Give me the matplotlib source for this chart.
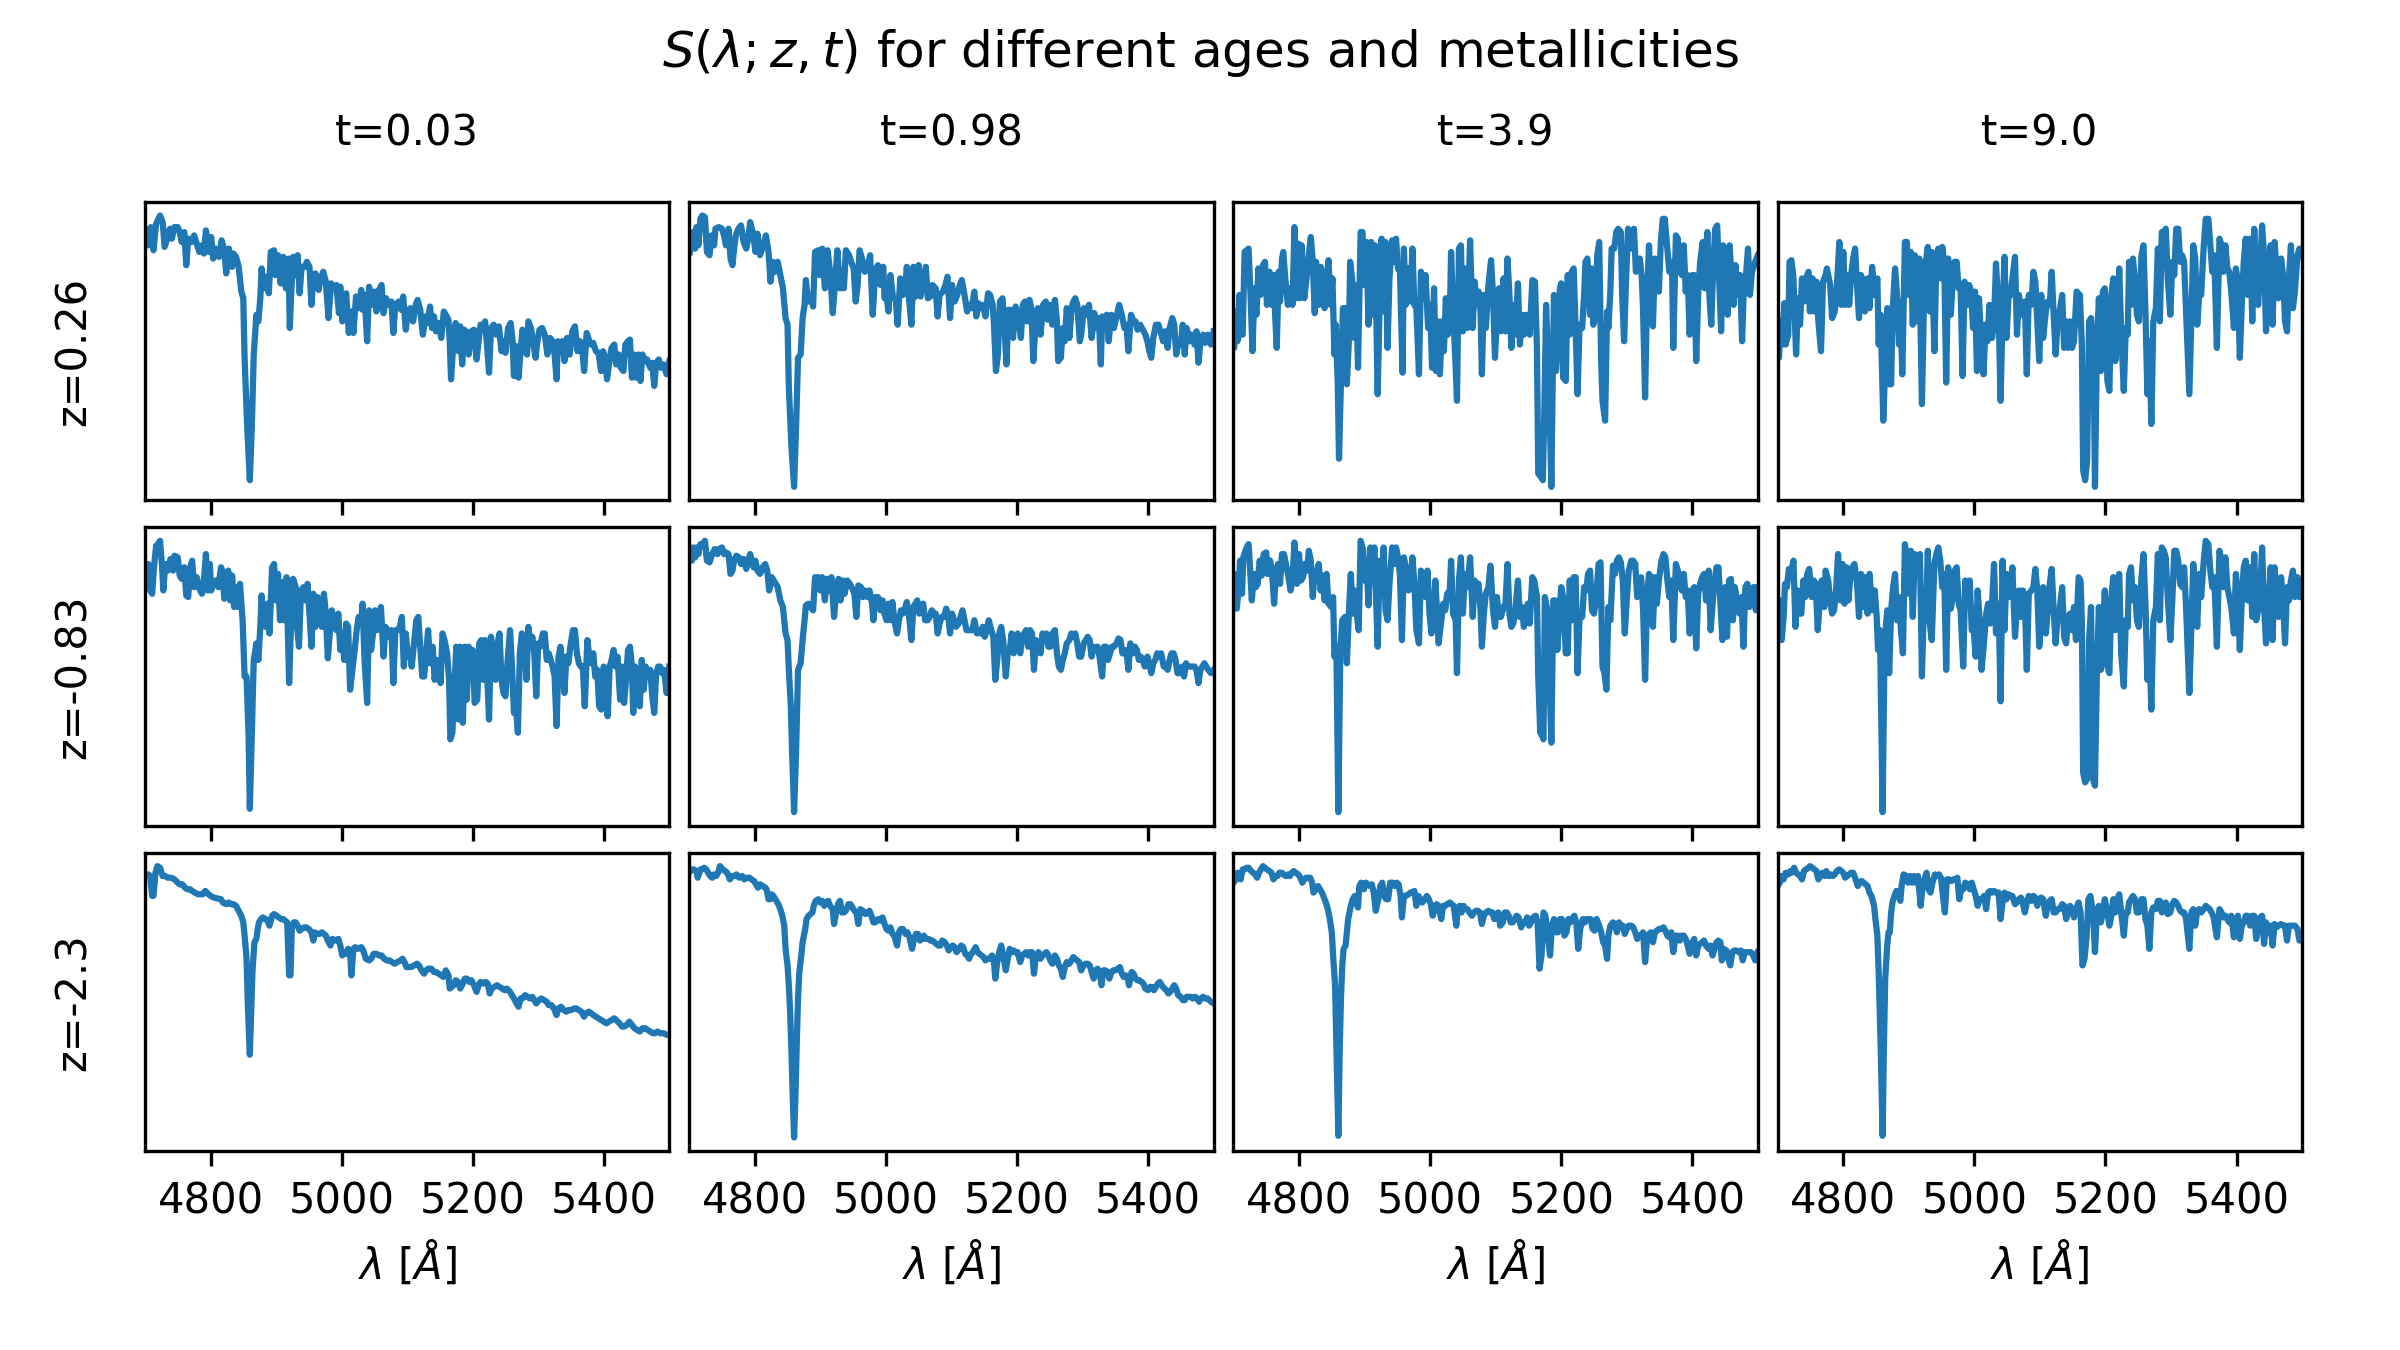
import matplotlib
matplotlib.use("Agg")
import matplotlib.pyplot as plt

ages = ["0.03", "0.98", "3.9", "9.0"]
metallicities = ["0.26", "-0.83", "-2.3"]
xticks = [4800, 5000, 5200, 5400]

# (wavelength [A], relative flux) pairs
spec_z026_t003 = [(4700, 820), (4701, 820), (4705, 770), (4709, 825), (4713, 755), (4717, 835), (4723, 860), (4727, 840), (4730, 765), (4734, 790), (4738, 820), (4741, 790), (4745, 825), (4750, 825), (4753, 810), (4756, 780), (4760, 810), (4763, 710), (4766, 790), (4771, 780), (4775, 800), (4779, 775), (4783, 750), (4787, 770), (4790, 745), (4793, 815), (4798, 750), (4801, 795), (4804, 730), (4808, 760), (4813, 735), (4817, 785), (4821, 755), (4824, 685), (4828, 760), (4831, 730), (4833, 705), (4835, 745), (4839, 735), (4843, 705), (4847, 630), (4850, 610), (4852, 430), (4856, 220), (4860, 60), (4863, 220), (4866, 440), (4870, 560), (4873, 540), (4876, 610), (4878, 700), (4881, 640), (4885, 675), (4889, 625), (4892, 750), (4897, 755), (4899, 680), (4903, 740), (4907, 655), (4911, 735), (4915, 640), (4919, 730), (4921, 520), (4923, 620), (4926, 735), (4930, 680), (4933, 740), (4936, 625), (4939, 705), (4944, 705), (4947, 720), (4951, 705), (4954, 590), (4957, 680), (4960, 685), (4965, 635), (4968, 670), (4972, 690), (4976, 660), (4980, 550), (4984, 655), (4988, 640), (4992, 650), (4996, 565), (4998, 645), (5001, 540), (5004, 580), (5007, 625), (5011, 505), (5015, 570), (5018, 505), (5022, 615), (5026, 580), (5030, 635), (5032, 575), (5035, 620), (5039, 480), (5042, 645), (5045, 590), (5050, 630), (5053, 570), (5057, 635), (5061, 650), (5064, 565), (5068, 610), (5071, 590), (5076, 600), (5079, 505), (5082, 590), (5087, 600), (5091, 575), (5094, 615), (5098, 515), (5101, 570), (5105, 580), (5109, 540), (5113, 590), (5116, 605), (5120, 575), (5124, 500), (5128, 555), (5131, 535), (5135, 585), (5138, 520), (5141, 555), (5144, 510), (5148, 535), (5152, 490), (5156, 570), (5159, 560), (5163, 545), (5165, 480), (5167, 365), (5171, 490), (5174, 535), (5178, 450), (5181, 525), (5184, 410), (5187, 515), (5190, 510), (5194, 440), (5198, 510), (5202, 515), (5206, 425), (5209, 480), (5212, 530), (5215, 520), (5219, 540), (5222, 465), (5225, 385), (5228, 520), (5232, 530), (5236, 500), (5240, 525), (5244, 450), (5247, 480), (5250, 445), (5254, 520), (5258, 535), (5261, 480), (5263, 375), (5267, 465), (5270, 370), (5273, 450), (5276, 515), (5280, 450), (5283, 440), (5285, 540), (5289, 520), (5292, 480), (5296, 430), (5298, 470), (5302, 515), (5306, 520), (5310, 500), (5314, 440), (5318, 490), (5322, 480), (5325, 440), (5328, 365), (5330, 480), (5333, 450), (5337, 480), (5340, 420), (5344, 490), (5348, 440), (5352, 510), (5356, 525), (5360, 450), (5364, 480), (5367, 460), (5370, 390), (5374, 505), (5378, 480), (5381, 470), (5384, 475), (5388, 450), (5392, 445), (5396, 390), (5399, 450), (5402, 430), (5405, 365), (5408, 410), (5412, 460), (5416, 470), (5419, 410), (5423, 440), (5426, 400), (5430, 390), (5433, 470), (5437, 480), (5440, 485), (5443, 370), (5446, 440), (5450, 370), (5453, 440), (5456, 360), (5459, 440), (5463, 420), (5466, 425), (5471, 400), (5474, 415), (5477, 345), (5480, 415), (5484, 425), (5487, 400), (5491, 410), (5496, 380), (5500, 420)]

spec_z026_t098 = [(4700, 745), (4701, 745), (4705, 810), (4709, 760), (4711, 825), (4714, 770), (4717, 850), (4720, 860), (4724, 855), (4727, 750), (4731, 740), (4734, 800), (4738, 770), (4740, 820), (4745, 825), (4750, 820), (4753, 800), (4756, 770), (4760, 820), (4763, 730), (4766, 710), (4769, 770), (4771, 800), (4775, 820), (4779, 830), (4783, 780), (4787, 760), (4790, 790), (4793, 840), (4798, 800), (4801, 750), (4804, 805), (4808, 740), (4813, 770), (4817, 800), (4821, 750), (4824, 660), (4828, 720), (4831, 690), (4835, 720), (4839, 680), (4843, 640), (4847, 550), (4850, 530), (4852, 340), (4856, 160), (4860, 40), (4863, 220), (4866, 430), (4870, 440), (4873, 550), (4876, 590), (4878, 665), (4881, 600), (4885, 620), (4889, 585), (4892, 750), (4897, 755), (4899, 680), (4903, 760), (4907, 640), (4911, 755), (4915, 690), (4919, 565), (4923, 670), (4926, 755), (4930, 640), (4933, 690), (4936, 640), (4939, 755), (4944, 740), (4947, 720), (4951, 700), (4954, 600), (4957, 650), (4960, 755), (4965, 720), (4968, 690), (4972, 700), (4976, 740), (4980, 560), (4984, 695), (4988, 710), (4992, 650), (4996, 705), (4998, 610), (5001, 620), (5004, 570), (5007, 680), (5011, 610), (5015, 610), (5018, 530), (5022, 670), (5026, 620), (5030, 655), (5032, 705), (5035, 615), (5039, 530), (5042, 705), (5045, 615), (5050, 710), (5053, 615), (5057, 660), (5061, 705), (5064, 610), (5068, 615), (5071, 650), (5076, 640), (5079, 555), (5082, 620), (5087, 630), (5091, 650), (5094, 675), (5098, 550), (5101, 650), (5105, 600), (5109, 620), (5113, 650), (5116, 665), (5120, 620), (5124, 570), (5128, 590), (5131, 580), (5135, 630), (5138, 555), (5141, 595), (5144, 580), (5148, 590), (5152, 555), (5156, 625), (5159, 620), (5163, 590), (5165, 530), (5168, 390), (5171, 440), (5174, 600), (5178, 610), (5181, 525), (5184, 410), (5187, 575), (5190, 575), (5194, 490), (5198, 585), (5202, 560), (5206, 490), (5209, 590), (5212, 600), (5215, 540), (5219, 605), (5222, 580), (5225, 420), (5228, 520), (5232, 580), (5236, 500), (5240, 590), (5244, 600), (5247, 545), (5250, 590), (5254, 530), (5258, 605), (5261, 540), (5263, 420), (5267, 430), (5270, 520), (5273, 480), (5276, 580), (5280, 490), (5283, 570), (5285, 595), (5289, 610), (5292, 590), (5296, 480), (5298, 500), (5302, 580), (5306, 560), (5310, 590), (5314, 490), (5318, 565), (5322, 520), (5325, 550), (5328, 410), (5330, 555), (5333, 540), (5337, 560), (5340, 480), (5344, 560), (5348, 520), (5352, 555), (5356, 590), (5360, 560), (5364, 520), (5367, 530), (5370, 450), (5374, 560), (5378, 540), (5381, 540), (5384, 515), (5388, 530), (5392, 515), (5396, 500), (5399, 480), (5402, 450), (5405, 430), (5408, 490), (5412, 530), (5416, 530), (5419, 510), (5423, 480), (5426, 510), (5430, 460), (5433, 520), (5437, 550), (5440, 530), (5443, 440), (5446, 470), (5450, 470), (5453, 530), (5456, 440), (5459, 520), (5463, 480), (5466, 500), (5471, 470), (5474, 510), (5477, 415), (5480, 480), (5484, 500), (5487, 475), (5491, 500), (5496, 470), (5500, 510)]

spec_z026_t39 = [(4700, 460), (4701, 460), (4704, 570), (4706, 480), (4709, 620), (4711, 500), (4714, 500), (4717, 750), (4720, 755), (4723, 760), (4726, 620), (4729, 450), (4732, 640), (4735, 560), (4738, 700), (4741, 620), (4745, 710), (4748, 720), (4751, 590), (4755, 690), (4758, 590), (4761, 680), (4764, 540), (4766, 460), (4769, 690), (4771, 600), (4774, 730), (4776, 750), (4779, 670), (4783, 590), (4787, 640), (4790, 590), (4793, 825), (4796, 610), (4799, 775), (4801, 610), (4804, 770), (4808, 610), (4812, 680), (4816, 760), (4818, 795), (4821, 720), (4824, 565), (4826, 720), (4830, 590), (4833, 705), (4836, 680), (4839, 580), (4842, 670), (4845, 725), (4848, 590), (4851, 670), (4854, 440), (4856, 530), (4859, 360), (4861, 125), (4864, 360), (4867, 580), (4871, 580), (4873, 350), (4876, 480), (4878, 720), (4881, 670), (4884, 490), (4887, 650), (4890, 400), (4894, 810), (4897, 810), (4899, 650), (4903, 780), (4906, 530), (4910, 780), (4913, 560), (4916, 770), (4920, 320), (4923, 600), (4926, 790), (4930, 570), (4932, 780), (4935, 460), (4938, 670), (4942, 785), (4945, 720), (4948, 790), (4951, 700), (4954, 690), (4958, 385), (4960, 760), (4963, 590), (4967, 700), (4970, 600), (4973, 760), (4976, 590), (4979, 580), (4983, 380), (4986, 690), (4989, 610), (4993, 680), (4997, 520), (5000, 590), (5003, 400), (5006, 640), (5009, 390), (5012, 540), (5015, 380), (5018, 540), (5021, 450), (5024, 610), (5027, 500), (5030, 540), (5032, 750), (5035, 580), (5039, 400), (5041, 300), (5044, 760), (5047, 770), (5050, 510), (5053, 700), (5057, 520), (5061, 785), (5065, 520), (5068, 660), (5071, 590), (5074, 630), (5077, 570), (5079, 380), (5082, 620), (5085, 520), (5089, 650), (5093, 725), (5096, 620), (5099, 430), (5102, 560), (5105, 640), (5108, 510), (5112, 670), (5115, 510), (5118, 730), (5121, 620), (5124, 460), (5127, 590), (5130, 500), (5134, 655), (5137, 470), (5140, 560), (5143, 500), (5146, 560), (5150, 530), (5152, 500), (5156, 665), (5160, 660), (5163, 460), (5165, 80), (5169, 70), (5172, 60), (5174, 240), (5177, 590), (5180, 400), (5183, 220), (5185, 40), (5187, 360), (5189, 620), (5192, 390), (5195, 500), (5198, 640), (5200, 655), (5203, 370), (5207, 360), (5210, 680), (5213, 500), (5216, 690), (5219, 700), (5222, 520), (5225, 320), (5228, 530), (5232, 520), (5235, 620), (5237, 720), (5240, 730), (5244, 560), (5246, 700), (5249, 530), (5252, 550), (5255, 740), (5258, 780), (5261, 420), (5263, 300), (5267, 240), (5270, 570), (5272, 520), (5275, 630), (5277, 760), (5281, 760), (5284, 810), (5287, 820), (5291, 810), (5293, 620), (5296, 480), (5299, 670), (5302, 820), (5305, 760), (5308, 810), (5311, 820), (5314, 690), (5317, 720), (5320, 730), (5323, 670), (5325, 570), (5328, 310), (5331, 620), (5334, 770), (5337, 590), (5340, 525), (5343, 730), (5346, 720), (5349, 630), (5352, 780), (5355, 850), (5358, 850), (5362, 760), (5365, 690), (5369, 720), (5371, 460), (5375, 800), (5378, 790), (5381, 700), (5384, 680), (5387, 770), (5390, 630), (5393, 680), (5396, 500), (5400, 680), (5403, 680), (5406, 420), (5409, 620), (5412, 720), (5416, 780), (5419, 640), (5423, 810), (5426, 620), (5429, 530), (5432, 710), (5435, 820), (5438, 830), (5441, 670), (5444, 510), (5447, 770), (5451, 690), (5454, 560), (5457, 770), (5460, 670), (5463, 590), (5466, 710), (5469, 620), (5473, 680), (5476, 480), (5479, 660), (5482, 680), (5485, 760), (5488, 620), (5491, 690), (5496, 720), (5500, 740)]

spec_z026_t90 = [(4700, 480), (4702, 430), (4704, 540), (4707, 470), (4710, 595), (4712, 470), (4716, 500), (4718, 720), (4721, 725), (4724, 670), (4728, 440), (4731, 610), (4734, 530), (4737, 670), (4740, 600), (4743, 670), (4747, 690), (4749, 570), (4753, 670), (4756, 570), (4759, 660), (4762, 540), (4766, 450), (4769, 660), (4773, 680), (4775, 700), (4780, 650), (4783, 550), (4787, 570), (4790, 640), (4794, 780), (4797, 590), (4800, 750), (4803, 590), (4806, 680), (4809, 590), (4812, 680), (4815, 730), (4818, 760), (4821, 650), (4824, 550), (4827, 680), (4830, 660), (4833, 570), (4837, 670), (4840, 580), (4844, 705), (4848, 620), (4852, 670), (4854, 470), (4857, 560), (4861, 240), (4863, 350), (4867, 580), (4870, 350), (4873, 350), (4875, 560), (4879, 700), (4882, 620), (4885, 470), (4887, 600), (4890, 380), (4894, 780), (4897, 780), (4900, 620), (4903, 750), (4906, 530), (4909, 740), (4912, 540), (4916, 730), (4920, 290), (4923, 590), (4926, 720), (4929, 765), (4932, 570), (4935, 750), (4939, 450), (4942, 730), (4945, 760), (4948, 670), (4951, 765), (4954, 720), (4957, 355), (4960, 730), (4964, 560), (4967, 660), (4970, 720), (4973, 720), (4976, 640), (4979, 650), (4982, 375), (4985, 660), (4989, 590), (4992, 650), (4995, 630), (4998, 520), (5001, 630), (5004, 390), (5007, 610), (5010, 500), (5014, 380), (5017, 530), (5020, 480), (5023, 590), (5027, 490), (5030, 540), (5033, 715), (5037, 570), (5040, 300), (5043, 570), (5046, 735), (5049, 490), (5052, 610), (5055, 620), (5058, 670), (5062, 735), (5065, 500), (5068, 620), (5071, 560), (5074, 580), (5077, 600), (5080, 380), (5083, 620), (5087, 590), (5090, 690), (5093, 660), (5096, 540), (5099, 420), (5102, 620), (5105, 490), (5109, 570), (5112, 600), (5115, 590), (5118, 690), (5121, 560), (5124, 440), (5127, 540), (5130, 570), (5134, 620), (5137, 460), (5140, 540), (5143, 460), (5146, 540), (5149, 460), (5152, 480), (5156, 630), (5161, 620), (5164, 470), (5166, 90), (5169, 60), (5172, 120), (5175, 540), (5178, 550), (5182, 420), (5184, 40), (5187, 470), (5190, 610), (5193, 390), (5196, 630), (5199, 640), (5203, 360), (5206, 330), (5209, 620), (5212, 670), (5215, 420), (5218, 510), (5221, 700), (5224, 510), (5228, 330), (5231, 520), (5234, 500), (5236, 720), (5239, 590), (5242, 730), (5245, 660), (5248, 560), (5251, 540), (5255, 740), (5258, 770), (5261, 570), (5264, 320), (5267, 480), (5270, 230), (5273, 540), (5277, 580), (5280, 760), (5283, 540), (5286, 810), (5289, 810), (5292, 820), (5295, 670), (5299, 560), (5302, 720), (5305, 680), (5308, 820), (5311, 820), (5314, 720), (5317, 740), (5320, 720), (5323, 570), (5328, 320), (5331, 550), (5334, 770), (5337, 730), (5340, 530), (5343, 620), (5346, 620), (5350, 770), (5353, 850), (5357, 850), (5360, 770), (5363, 690), (5366, 740), (5370, 460), (5374, 790), (5377, 770), (5380, 690), (5383, 770), (5386, 700), (5389, 690), (5392, 630), (5396, 520), (5399, 700), (5402, 660), (5405, 430), (5408, 590), (5411, 720), (5414, 790), (5417, 620), (5421, 790), (5424, 540), (5427, 820), (5430, 640), (5433, 590), (5436, 710), (5439, 830), (5442, 740), (5445, 510), (5449, 680), (5452, 770), (5455, 530), (5458, 780), (5461, 700), (5464, 610), (5468, 730), (5471, 680), (5474, 540), (5477, 510), (5480, 670), (5483, 770), (5486, 580), (5489, 630), (5493, 740), (5496, 760), (5500, 740)]

spec_zm083_t003 = [(4700, 720), (4701, 720), (4705, 790), (4708, 710), (4711, 700), (4714, 785), (4717, 845), (4720, 850), (4723, 860), (4726, 785), (4728, 710), (4731, 790), (4735, 770), (4739, 805), (4743, 770), (4745, 815), (4750, 810), (4753, 755), (4756, 745), (4760, 780), (4763, 695), (4766, 690), (4769, 780), (4772, 800), (4775, 720), (4779, 750), (4783, 715), (4787, 700), (4790, 740), (4793, 820), (4796, 710), (4799, 790), (4801, 710), (4804, 730), (4808, 740), (4812, 720), (4816, 780), (4818, 770), (4821, 685), (4824, 720), (4827, 770), (4830, 680), (4833, 755), (4836, 660), (4839, 720), (4842, 660), (4845, 730), (4849, 620), (4852, 450), (4855, 450), (4858, 280), (4860, 50), (4863, 270), (4866, 500), (4870, 550), (4873, 500), (4876, 600), (4878, 695), (4881, 610), (4884, 600), (4887, 670), (4890, 580), (4894, 780), (4897, 790), (4900, 680), (4903, 760), (4906, 620), (4909, 735), (4912, 620), (4916, 750), (4920, 430), (4923, 620), (4926, 745), (4930, 720), (4932, 600), (4935, 540), (4938, 710), (4942, 720), (4945, 680), (4948, 730), (4951, 640), (4954, 540), (4957, 700), (4960, 600), (4963, 690), (4967, 670), (4970, 600), (4973, 700), (4976, 640), (4979, 505), (4982, 580), (4985, 650), (4988, 620), (4992, 590), (4995, 640), (4998, 530), (5001, 580), (5004, 500), (5007, 610), (5010, 600), (5013, 410), (5017, 480), (5020, 530), (5023, 590), (5026, 630), (5030, 610), (5032, 670), (5035, 500), (5039, 370), (5042, 650), (5045, 530), (5048, 580), (5051, 650), (5054, 590), (5057, 620), (5060, 660), (5064, 510), (5067, 600), (5070, 590), (5073, 570), (5076, 590), (5079, 430), (5082, 590), (5085, 590), (5089, 600), (5092, 630), (5095, 480), (5098, 580), (5101, 510), (5104, 530), (5107, 480), (5111, 560), (5114, 620), (5117, 630), (5120, 540), (5123, 450), (5126, 450), (5129, 520), (5132, 590), (5135, 490), (5139, 540), (5142, 440), (5145, 500), (5148, 490), (5151, 430), (5154, 580), (5157, 560), (5161, 520), (5164, 440), (5166, 260), (5169, 280), (5172, 410), (5175, 540), (5178, 320), (5181, 540), (5185, 310), (5188, 540), (5191, 380), (5194, 540), (5197, 490), (5200, 530), (5203, 370), (5207, 380), (5210, 550), (5213, 560), (5216, 440), (5219, 560), (5222, 460), (5225, 320), (5228, 570), (5232, 480), (5235, 440), (5238, 550), (5241, 580), (5244, 440), (5247, 400), (5250, 390), (5253, 490), (5257, 590), (5260, 480), (5263, 340), (5266, 360), (5269, 280), (5272, 520), (5275, 580), (5279, 550), (5282, 440), (5285, 600), (5288, 540), (5291, 570), (5294, 520), (5297, 390), (5300, 550), (5303, 540), (5307, 580), (5310, 580), (5313, 500), (5316, 520), (5319, 500), (5322, 480), (5325, 450), (5328, 300), (5331, 510), (5334, 540), (5337, 480), (5340, 400), (5343, 510), (5346, 490), (5349, 540), (5353, 590), (5356, 590), (5359, 520), (5362, 490), (5365, 480), (5368, 480), (5371, 360), (5375, 560), (5378, 510), (5381, 490), (5384, 520), (5387, 450), (5390, 470), (5393, 360), (5396, 350), (5400, 480), (5403, 390), (5406, 330), (5409, 480), (5412, 500), (5415, 530), (5418, 480), (5421, 510), (5425, 380), (5428, 480), (5431, 370), (5434, 440), (5437, 530), (5440, 540), (5443, 480), (5445, 340), (5448, 480), (5452, 440), (5455, 360), (5458, 500), (5461, 410), (5464, 480), (5467, 460), (5471, 470), (5474, 390), (5477, 340), (5480, 460), (5483, 480), (5486, 480), (5489, 460), (5492, 470), (5496, 400), (5500, 480)]

spec_zm083_t098 = [(4700, 810), (4704, 800), (4706, 840), (4709, 810), (4711, 840), (4714, 820), (4717, 850), (4720, 850), (4724, 860), (4727, 800), (4731, 795), (4735, 820), (4739, 835), (4743, 820), (4745, 835), (4750, 840), (4753, 820), (4756, 825), (4760, 820), (4763, 760), (4766, 770), (4769, 805), (4772, 815), (4776, 810), (4779, 790), (4783, 805), (4787, 775), (4790, 800), (4793, 820), (4798, 780), (4801, 800), (4804, 770), (4808, 760), (4812, 780), (4816, 790), (4819, 770), (4822, 710), (4826, 750), (4829, 740), (4832, 730), (4835, 720), (4839, 680), (4843, 660), (4847, 580), (4850, 560), (4852, 470), (4855, 360), (4857, 220), (4860, 40), (4863, 220), (4866, 470), (4870, 490), (4873, 560), (4876, 620), (4878, 665), (4882, 670), (4885, 660), (4889, 650), (4892, 750), (4897, 750), (4900, 710), (4903, 750), (4907, 680), (4910, 745), (4913, 710), (4917, 750), (4921, 630), (4924, 700), (4928, 745), (4931, 680), (4934, 740), (4937, 700), (4941, 740), (4945, 730), (4949, 715), (4952, 700), (4955, 630), (4958, 725), (4962, 720), (4965, 690), (4968, 710), (4972, 690), (4975, 710), (4979, 670), (4981, 620), (4984, 690), (4988, 690), (4992, 650), (4995, 680), (4998, 640), (5001, 620), (5004, 670), (5007, 620), (5010, 675), (5013, 620), (5017, 580), (5020, 620), (5023, 650), (5026, 640), (5030, 660), (5032, 675), (5035, 640), (5039, 560), (5042, 660), (5045, 670), (5048, 680), (5051, 640), (5054, 660), (5057, 670), (5060, 620), (5064, 620), (5067, 630), (5070, 650), (5073, 640), (5076, 640), (5079, 580), (5082, 610), (5085, 630), (5089, 630), (5092, 655), (5095, 640), (5098, 580), (5101, 640), (5104, 620), (5107, 600), (5111, 610), (5114, 630), (5117, 650), (5120, 620), (5123, 590), (5126, 590), (5129, 590), (5132, 590), (5135, 620), (5139, 580), (5142, 590), (5145, 580), (5148, 600), (5151, 570), (5154, 590), (5157, 620), (5161, 590), (5164, 570), (5167, 440), (5170, 500), (5173, 580), (5176, 600), (5179, 560), (5183, 450), (5186, 520), (5189, 530), (5192, 580), (5195, 520), (5198, 550), (5201, 580), (5205, 520), (5208, 570), (5211, 580), (5214, 590), (5217, 540), (5220, 590), (5223, 580), (5226, 470), (5229, 560), (5233, 550), (5236, 520), (5239, 580), (5242, 560), (5245, 580), (5248, 540), (5251, 540), (5254, 580), (5258, 590), (5261, 520), (5264, 480), (5267, 470), (5270, 500), (5273, 520), (5276, 550), (5280, 560), (5283, 580), (5286, 570), (5289, 580), (5292, 550), (5295, 510), (5298, 510), (5302, 550), (5305, 560), (5308, 570), (5311, 560), (5314, 510), (5317, 540), (5320, 530), (5323, 540), (5326, 510), (5330, 450), (5333, 540), (5336, 540), (5339, 500), (5342, 520), (5345, 540), (5348, 540), (5352, 550), (5355, 565), (5358, 560), (5361, 520), (5364, 520), (5367, 530), (5370, 470), (5373, 550), (5377, 520), (5380, 540), (5383, 530), (5386, 500), (5389, 510), (5392, 500), (5395, 480), (5399, 510), (5402, 490), (5405, 460), (5408, 490), (5411, 500), (5414, 520), (5417, 510), (5420, 520), (5424, 480), (5427, 480), (5430, 470), (5433, 500), (5436, 520), (5439, 520), (5442, 500), (5445, 460), (5448, 460), (5452, 480), (5455, 450), (5458, 490), (5461, 480), (5464, 480), (5467, 480), (5471, 480), (5474, 470), (5477, 430), (5480, 470), (5483, 480), (5486, 490), (5489, 480), (5492, 470), (5496, 460), (5500, 470)]

spec_zm083_t39 = [(4700, 760), (4701, 760), (4705, 655), (4708, 720), (4710, 800), (4713, 700), (4715, 810), (4719, 835), (4723, 850), (4724, 820), (4728, 680), (4731, 760), (4734, 720), (4737, 730), (4740, 800), (4743, 755), (4746, 820), (4750, 825), (4752, 760), (4756, 800), (4759, 760), (4762, 670), (4765, 770), (4768, 790), (4771, 730), (4774, 820), (4777, 820), (4781, 780), (4784, 750), (4787, 710), (4790, 740), (4793, 855), (4797, 730), (4800, 820), (4803, 740), (4806, 750), (4809, 790), (4812, 770), (4815, 830), (4818, 800), (4821, 690), (4824, 770), (4827, 740), (4830, 790), (4833, 710), (4836, 755), (4839, 680), (4842, 760), (4845, 670), (4849, 660), (4852, 690), (4854, 510), (4857, 540), (4860, 40), (4863, 530), (4866, 620), (4870, 630), (4873, 490), (4876, 640), (4879, 760), (4882, 640), (4885, 710), (4888, 640), (4891, 590), (4894, 860), (4898, 830), (4900, 740), (4903, 800), (4906, 665), (4909, 840), (4912, 760), (4915, 840), (4920, 540), (4923, 800), (4926, 700), (4929, 840), (4932, 650), (4935, 620), (4938, 730), (4942, 840), (4945, 790), (4948, 840), (4951, 810), (4954, 755), (4957, 560), (4960, 810), (4963, 780), (4967, 710), (4970, 720), (4973, 810), (4976, 730), (4979, 590), (4983, 550), (4986, 770), (4989, 760), (4993, 690), (4996, 770), (4999, 640), (5002, 580), (5005, 640), (5008, 740), (5011, 630), (5013, 550), (5017, 620), (5020, 670), (5023, 650), (5026, 700), (5030, 710), (5032, 800), (5035, 640), (5039, 620), (5041, 460), (5044, 740), (5047, 810), (5050, 640), (5053, 760), (5057, 720), (5061, 810), (5065, 630), (5068, 740), (5071, 730), (5074, 730), (5077, 650), (5079, 540), (5082, 640), (5085, 700), (5089, 720), (5092, 785), (5096, 650), (5099, 600), (5102, 690), (5105, 630), (5108, 630), (5112, 660), (5115, 670), (5118, 790), (5121, 640), (5124, 600), (5127, 610), (5130, 650), (5134, 740), (5137, 630), (5140, 660), (5143, 600), (5146, 630), (5149, 670), (5152, 610), (5156, 750), (5159, 740), (5163, 690), (5165, 450), (5168, 280), (5171, 270), (5173, 260), (5175, 690), (5178, 660), (5181, 520), (5185, 250), (5188, 680), (5191, 680), (5194, 530), (5197, 620), (5200, 720), (5203, 690), (5207, 520), (5210, 520), (5213, 740), (5216, 620), (5219, 750), (5222, 750), (5225, 460), (5228, 630), (5232, 630), (5235, 720), (5238, 710), (5241, 760), (5244, 770), (5247, 650), (5250, 640), (5253, 680), (5257, 790), (5260, 795), (5263, 480), (5266, 460), (5269, 410), (5272, 660), (5275, 620), (5279, 785), (5282, 760), (5285, 800), (5288, 810), (5291, 795), (5294, 740), (5297, 580), (5300, 680), (5303, 770), (5307, 800), (5310, 800), (5313, 790), (5316, 690), (5319, 740), (5322, 750), (5325, 650), (5328, 440), (5331, 690), (5334, 760), (5337, 750), (5340, 600), (5343, 750), (5346, 670), (5349, 740), (5353, 800), (5356, 820), (5359, 810), (5362, 740), (5365, 690), (5368, 740), (5371, 560), (5375, 790), (5378, 770), (5381, 740), (5384, 710), (5387, 760), (5390, 690), (5393, 710), (5396, 580), (5400, 710), (5403, 720), (5406, 535), (5409, 700), (5412, 730), (5415, 750), (5418, 760), (5421, 680), (5425, 770), (5428, 590), (5431, 670), (5434, 740), (5437, 780), (5440, 780), (5443, 670), (5446, 560), (5450, 720), (5453, 570), (5456, 740), (5459, 745), (5462, 620), (5465, 720), (5468, 680), (5472, 640), (5475, 690), (5478, 540), (5481, 720), (5484, 730), (5487, 660), (5490, 710), (5493, 720), (5497, 650), (5500, 720)]

spec_zm083_t90 = [(4700, 660), (4703, 680), (4706, 560), (4709, 630), (4711, 730), (4714, 720), (4717, 775), (4720, 760), (4724, 800), (4727, 600), (4730, 710), (4733, 640), (4736, 640), (4739, 740), (4742, 690), (4745, 760), (4748, 775), (4752, 690), (4755, 740), (4758, 730), (4761, 590), (4764, 670), (4767, 740), (4771, 660), (4773, 770), (4777, 740), (4780, 680), (4783, 640), (4786, 650), (4789, 710), (4792, 820), (4796, 680), (4799, 790), (4802, 670), (4805, 780), (4808, 680), (4811, 760), (4814, 780), (4817, 790), (4821, 730), (4824, 630), (4827, 760), (4830, 660), (4833, 750), (4837, 640), (4840, 760), (4844, 650), (4848, 710), (4851, 630), (4853, 530), (4856, 590), (4860, 40), (4863, 550), (4867, 650), (4870, 460), (4873, 650), (4876, 720), (4879, 760), (4882, 620), (4885, 690), (4888, 590), (4891, 520), (4894, 850), (4897, 800), (4900, 700), (4903, 830), (4906, 630), (4909, 820), (4912, 760), (4917, 820), (4920, 450), (4923, 670), (4926, 620), (4929, 830), (4932, 610), (4935, 560), (4939, 790), (4942, 820), (4945, 840), (4948, 800), (4951, 720), (4954, 760), (4957, 470), (4960, 780), (4964, 655), (4967, 690), (4970, 770), (4973, 780), (4976, 670), (4979, 650), (4983, 480), (4986, 740), (4990, 730), (4993, 740), (4996, 590), (4999, 590), (5002, 510), (5005, 710), (5008, 620), (5011, 470), (5015, 560), (5018, 640), (5021, 670), (5024, 610), (5027, 670), (5030, 790), (5033, 580), (5037, 670), (5040, 375), (5043, 800), (5046, 590), (5049, 760), (5052, 690), (5055, 720), (5058, 780), (5062, 570), (5065, 660), (5068, 710), (5071, 630), (5074, 710), (5077, 690), (5080, 470), (5083, 700), (5087, 710), (5090, 720), (5093, 775), (5096, 710), (5099, 540), (5102, 630), (5105, 720), (5109, 580), (5112, 650), (5115, 730), (5118, 775), (5121, 650), (5124, 550), (5127, 630), (5130, 650), (5134, 720), (5137, 570), (5140, 550), (5143, 630), (5146, 640), (5149, 590), (5152, 660), (5155, 560), (5159, 750), (5162, 740), (5164, 620), (5166, 160), (5169, 130), (5172, 140), (5175, 560), (5178, 660), (5181, 140), (5184, 120), (5187, 470), (5190, 660), (5193, 470), (5196, 580), (5199, 710), (5203, 480), (5206, 460), (5209, 690), (5212, 750), (5215, 590), (5218, 730), (5221, 760), (5224, 520), (5228, 420), (5231, 620), (5234, 600), (5236, 760), (5239, 780), (5242, 680), (5245, 720), (5248, 620), (5251, 600), (5255, 750), (5258, 820), (5261, 670), (5264, 440), (5267, 550), (5270, 350), (5273, 620), (5277, 660), (5280, 820), (5283, 620), (5286, 840), (5289, 830), (5292, 810), (5295, 690), (5299, 560), (5302, 680), (5305, 830), (5308, 830), (5311, 800), (5314, 730), (5317, 720), (5320, 780), (5323, 660), (5328, 400), (5331, 590), (5334, 790), (5337, 700), (5340, 600), (5343, 760), (5346, 690), (5350, 800), (5353, 860), (5357, 850), (5360, 770), (5363, 720), (5366, 750), (5370, 540), (5374, 830), (5377, 800), (5380, 720), (5383, 810), (5386, 720), (5389, 690), (5392, 660), (5396, 580), (5399, 760), (5402, 700), (5405, 530), (5408, 680), (5411, 780), (5414, 800), (5417, 680), (5421, 780), (5424, 630), (5427, 820), (5430, 620), (5433, 650), (5436, 700), (5439, 840), (5442, 660), (5445, 550), (5449, 660), (5452, 780), (5455, 560), (5458, 780), (5461, 700), (5464, 630), (5468, 750), (5471, 670), (5474, 550), (5477, 720), (5480, 680), (5483, 740), (5486, 770), (5489, 690), (5493, 750), (5496, 690), (5500, 690)]

spec_zm23_t003 = [(4700, 835), (4701, 835), (4705, 835), (4708, 830), (4711, 770), (4713, 770), (4716, 840), (4719, 860), (4723, 855), (4727, 830), (4731, 830), (4735, 825), (4740, 825), (4745, 820), (4750, 810), (4753, 805), (4757, 805), (4761, 795), (4765, 790), (4769, 790), (4772, 785), (4776, 780), (4781, 775), (4784, 775), (4788, 775), (4792, 785), (4797, 775), (4800, 770), (4805, 765), (4811, 762), (4816, 760), (4819, 750), (4824, 745), (4828, 750), (4831, 745), (4835, 745), (4839, 740), (4843, 725), (4847, 710), (4850, 690), (4852, 650), (4855, 580), (4857, 440), (4860, 290), (4862, 420), (4864, 540), (4867, 630), (4870, 640), (4872, 670), (4874, 690), (4877, 700), (4880, 705), (4884, 700), (4887, 695), (4890, 680), (4894, 710), (4897, 715), (4901, 710), (4904, 705), (4908, 700), (4911, 700), (4914, 695), (4917, 690), (4920, 530), (4922, 530), (4924, 670), (4927, 690), (4930, 690), (4933, 680), (4936, 665), (4939, 670), (4943, 675), (4946, 675), (4950, 670), (4954, 660), (4957, 635), (4959, 660), (4962, 655), (4966, 655), (4970, 660), (4973, 655), (4976, 650), (4979, 635), (4983, 620), (4986, 640), (4991, 635), (4995, 640), (4998, 620), (5001, 590), (5004, 600), (5007, 595), (5010, 610), (5013, 600), (5015, 530), (5018, 610), (5021, 615), (5025, 610), (5030, 615), (5033, 605), (5037, 580), (5042, 575), (5045, 580), (5049, 595), (5053, 595), (5057, 590), (5061, 590), (5065, 580), (5069, 575), (5073, 575), (5077, 570), (5081, 565), (5085, 570), (5090, 575), (5093, 580), (5096, 570), (5099, 555), (5103, 555), (5106, 555), (5111, 560), (5115, 565), (5118, 560), (5122, 545), (5126, 535), (5129, 545), (5132, 550), (5137, 550), (5141, 540), (5144, 540), (5148, 535), (5152, 530), (5155, 525), (5159, 545), (5163, 530), (5165, 490), (5168, 495), (5171, 500), (5174, 515), (5178, 510), (5181, 490), (5185, 505), (5188, 520), (5191, 520), (5195, 510), (5198, 515), (5202, 500), (5206, 480), (5209, 500), (5212, 510), (5216, 505), (5220, 510), (5223, 505), (5226, 475), (5229, 490), (5233, 495), (5237, 500), (5241, 495), (5245, 490), (5249, 485), (5252, 490), (5257, 480), (5260, 470), (5263, 460), (5267, 445), (5270, 435), (5273, 460), (5276, 460), (5280, 470), (5284, 465), (5287, 460), (5291, 465), (5294, 455), (5297, 445), (5301, 455), (5305, 460), (5309, 455), (5313, 450), (5316, 440), (5320, 440), (5324, 430), (5328, 410), (5331, 430), (5335, 435), (5339, 425), (5343, 420), (5346, 425), (5350, 425), (5355, 430), (5358, 430), (5362, 425), (5366, 420), (5370, 405), (5373, 415), (5377, 420), (5381, 415), (5384, 410), (5388, 405), (5392, 400), (5396, 395), (5400, 390), (5404, 385), (5408, 390), (5412, 395), (5416, 400), (5419, 395), (5424, 385), (5428, 375), (5431, 375), (5435, 380), (5439, 390), (5443, 380), (5447, 370), (5451, 365), (5455, 360), (5459, 370), (5463, 370), (5467, 365), (5471, 360), (5475, 355), (5478, 355), (5482, 360), (5486, 355), (5491, 355), (5496, 350), (5500, 350)]

spec_zm23_t098 = [(4700, 840), (4704, 850), (4707, 850), (4711, 845), (4713, 825), (4717, 850), (4719, 850), (4723, 855), (4726, 850), (4729, 840), (4732, 830), (4735, 825), (4738, 835), (4741, 830), (4744, 840), (4747, 860), (4751, 850), (4755, 845), (4758, 840), (4762, 820), (4765, 830), (4769, 830), (4772, 835), (4776, 825), (4781, 830), (4784, 820), (4788, 825), (4792, 825), (4795, 820), (4799, 815), (4802, 805), (4805, 795), (4808, 805), (4812, 800), (4816, 795), (4818, 790), (4821, 760), (4824, 760), (4826, 775), (4830, 765), (4833, 755), (4836, 745), (4839, 730), (4842, 710), (4845, 680), (4847, 610), (4850, 560), (4852, 500), (4854, 420), (4856, 300), (4858, 160), (4860, 40), (4862, 160), (4864, 320), (4866, 460), (4868, 540), (4871, 590), (4873, 630), (4875, 650), (4877, 670), (4879, 700), (4882, 710), (4885, 715), (4888, 720), (4890, 740), (4893, 755), (4897, 760), (4900, 750), (4903, 755), (4906, 740), (4909, 750), (4912, 755), (4915, 740), (4919, 730), (4921, 685), (4924, 720), (4927, 745), (4930, 755), (4933, 720), (4936, 720), (4939, 725), (4943, 745), (4946, 745), (4949, 735), (4952, 725), (4955, 720), (4958, 685), (4961, 730), (4965, 725), (4969, 715), (4972, 720), (4975, 725), (4978, 710), (4981, 690), (4984, 690), (4988, 700), (4992, 695), (4995, 705), (4998, 685), (5001, 670), (5004, 665), (5007, 675), (5010, 655), (5013, 650), (5017, 620), (5020, 660), (5023, 670), (5026, 670), (5030, 655), (5033, 660), (5036, 645), (5040, 610), (5043, 640), (5046, 655), (5049, 655), (5052, 635), (5055, 640), (5058, 650), (5061, 640), (5065, 640), (5068, 635), (5071, 635), (5074, 630), (5077, 625), (5080, 620), (5083, 620), (5086, 635), (5090, 630), (5093, 620), (5096, 605), (5099, 615), (5102, 620), (5105, 615), (5108, 600), (5112, 610), (5115, 620), (5118, 615), (5121, 595), (5124, 590), (5127, 580), (5130, 595), (5133, 600), (5137, 615), (5140, 600), (5143, 595), (5146, 590), (5149, 585), (5152, 575), (5155, 580), (5158, 580), (5162, 590), (5165, 570), (5167, 520), (5170, 570), (5173, 600), (5176, 620), (5179, 590), (5183, 545), (5186, 580), (5189, 610), (5192, 600), (5195, 605), (5198, 600), (5201, 600), (5205, 570), (5208, 590), (5211, 595), (5214, 600), (5217, 590), (5220, 600), (5223, 600), (5226, 535), (5229, 590), (5233, 600), (5236, 580), (5239, 590), (5242, 595), (5245, 600), (5248, 590), (5251, 575), (5254, 565), (5258, 590), (5261, 580), (5264, 560), (5267, 550), (5270, 525), (5273, 555), (5276, 570), (5280, 565), (5283, 575), (5286, 585), (5289, 580), (5292, 575), (5295, 570), (5298, 545), (5302, 560), (5305, 565), (5308, 565), (5311, 560), (5314, 540), (5317, 520), (5320, 545), (5323, 550), (5326, 540), (5329, 500), (5332, 545), (5335, 545), (5338, 540), (5341, 520), (5344, 540), (5347, 545), (5350, 545), (5354, 550), (5357, 555), (5360, 535), (5363, 525), (5366, 530), (5369, 525), (5371, 500), (5375, 540), (5378, 535), (5381, 520), (5384, 515), (5387, 515), (5390, 510), (5393, 505), (5396, 490), (5400, 485), (5403, 495), (5406, 495), (5409, 485), (5412, 495), (5415, 505), (5418, 510), (5421, 500), (5425, 490), (5428, 485), (5431, 475), (5434, 480), (5437, 490), (5440, 500), (5443, 490), (5446, 470), (5450, 465), (5453, 455), (5456, 455), (5459, 465), (5462, 465), (5465, 465), (5468, 460), (5472, 465), (5475, 460), (5478, 450), (5481, 460), (5484, 465), (5487, 460), (5491, 460), (5496, 450), (5500, 445)]

spec_zm23_t39 = [(4700, 810), (4704, 820), (4706, 840), (4709, 835), (4711, 820), (4714, 850), (4717, 850), (4720, 855), (4723, 855), (4727, 845), (4730, 840), (4733, 835), (4736, 825), (4739, 840), (4742, 850), (4745, 860), (4748, 855), (4751, 850), (4755, 845), (4758, 840), (4761, 820), (4764, 830), (4767, 830), (4770, 840), (4774, 840), (4776, 835), (4780, 830), (4783, 835), (4786, 830), (4789, 840), (4792, 845), (4795, 840), (4799, 835), (4802, 825), (4805, 810), (4808, 820), (4811, 825), (4814, 825), (4817, 825), (4820, 810), (4822, 780), (4826, 790), (4829, 800), (4832, 790), (4835, 780), (4838, 765), (4841, 750), (4844, 730), (4847, 700), (4850, 660), (4852, 590), (4855, 500), (4857, 320), (4860, 45), (4862, 300), (4864, 460), (4866, 560), (4868, 610), (4871, 620), (4873, 660), (4875, 700), (4877, 720), (4879, 740), (4882, 760), (4885, 770), (4888, 745), (4890, 735), (4892, 800), (4895, 810), (4899, 790), (4902, 810), (4905, 805), (4908, 800), (4911, 805), (4914, 780), (4917, 725), (4921, 760), (4924, 800), (4927, 810), (4930, 770), (4933, 760), (4936, 760), (4939, 810), (4943, 810), (4946, 800), (4949, 810), (4952, 805), (4955, 770), (4957, 705), (4960, 770), (4963, 770), (4967, 775), (4970, 780), (4973, 780), (4976, 785), (4979, 740), (4982, 770), (4985, 760), (4988, 750), (4992, 760), (4995, 770), (4998, 760), (5001, 745), (5004, 710), (5007, 730), (5010, 745), (5013, 740), (5017, 700), (5020, 740), (5023, 740), (5026, 745), (5030, 750), (5033, 745), (5036, 740), (5040, 680), (5042, 730), (5045, 740), (5048, 720), (5051, 740), (5054, 730), (5057, 730), (5060, 720), (5064, 710), (5067, 720), (5070, 725), (5073, 725), (5076, 720), (5079, 685), (5082, 710), (5085, 720), (5089, 725), (5092, 720), (5095, 720), (5098, 700), (5101, 705), (5104, 720), (5107, 680), (5111, 690), (5114, 720), (5117, 720), (5120, 710), (5123, 690), (5126, 690), (5129, 700), (5132, 710), (5135, 705), (5139, 675), (5142, 690), (5145, 690), (5148, 705), (5151, 680), (5154, 690), (5157, 705), (5161, 710), (5164, 690), (5167, 550), (5170, 590), (5173, 720), (5176, 710), (5179, 660), (5183, 590), (5186, 680), (5189, 700), (5192, 660), (5195, 660), (5198, 700), (5201, 700), (5205, 650), (5208, 660), (5211, 700), (5214, 690), (5217, 700), (5220, 710), (5223, 690), (5226, 610), (5229, 670), (5233, 700), (5236, 690), (5239, 700), (5242, 700), (5245, 700), (5248, 670), (5251, 665), (5254, 700), (5258, 680), (5261, 660), (5264, 630), (5267, 620), (5270, 580), (5272, 650), (5275, 680), (5279, 690), (5282, 685), (5285, 660), (5288, 690), (5291, 680), (5294, 680), (5297, 655), (5300, 670), (5303, 680), (5307, 680), (5310, 675), (5313, 660), (5316, 640), (5319, 650), (5322, 650), (5325, 660), (5328, 570), (5331, 640), (5334, 655), (5337, 660), (5340, 630), (5343, 660), (5346, 665), (5349, 670), (5353, 670), (5356, 675), (5359, 665), (5362, 650), (5365, 645), (5368, 660), (5371, 600), (5375, 650), (5378, 650), (5381, 635), (5384, 650), (5387, 650), (5390, 640), (5393, 620), (5396, 595), (5400, 630), (5403, 640), (5406, 590), (5409, 620), (5412, 625), (5415, 630), (5418, 635), (5421, 620), (5425, 610), (5428, 620), (5431, 590), (5434, 610), (5437, 630), (5440, 635), (5443, 630), (5445, 575), (5448, 610), (5452, 605), (5455, 580), (5458, 560), (5461, 600), (5464, 605), (5467, 605), (5471, 600), (5474, 605), (5477, 575), (5480, 600), (5483, 600), (5486, 600), (5489, 600), (5492, 595), (5496, 575), (5500, 600)]

spec_zm23_t90 = [(4700, 800), (4703, 810), (4706, 830), (4709, 820), (4712, 840), (4716, 835), (4719, 845), (4721, 840), (4725, 855), (4728, 840), (4731, 835), (4734, 830), (4737, 820), (4740, 845), (4743, 850), (4747, 855), (4749, 860), (4753, 855), (4756, 850), (4759, 845), (4762, 820), (4765, 830), (4768, 840), (4772, 830), (4774, 845), (4778, 830), (4781, 835), (4784, 830), (4787, 835), (4790, 845), (4794, 850), (4797, 845), (4800, 840), (4803, 825), (4806, 830), (4809, 835), (4812, 840), (4815, 840), (4818, 825), (4822, 800), (4825, 810), (4828, 815), (4831, 810), (4834, 805), (4837, 800), (4840, 780), (4843, 770), (4847, 740), (4849, 700), (4852, 650), (4854, 540), (4857, 320), (4860, 45), (4862, 320), (4864, 520), (4867, 620), (4869, 660), (4871, 660), (4873, 720), (4875, 750), (4878, 770), (4881, 785), (4884, 780), (4887, 755), (4889, 800), (4892, 835), (4896, 830), (4899, 810), (4902, 830), (4905, 810), (4908, 830), (4911, 810), (4914, 830), (4918, 740), (4921, 800), (4924, 820), (4927, 840), (4930, 790), (4933, 780), (4936, 810), (4940, 835), (4943, 830), (4946, 835), (4949, 825), (4952, 770), (4955, 720), (4958, 820), (4962, 820), (4965, 815), (4968, 820), (4971, 820), (4974, 825), (4977, 760), (4980, 790), (4983, 790), (4986, 810), (4990, 805), (4993, 790), (4996, 810), (4999, 790), (5002, 770), (5005, 740), (5008, 760), (5011, 760), (5015, 770), (5018, 730), (5021, 780), (5024, 785), (5027, 780), (5030, 785), (5033, 780), (5037, 780), (5040, 700), (5043, 750), (5046, 780), (5049, 760), (5052, 775), (5055, 770), (5058, 770), (5062, 745), (5065, 750), (5068, 760), (5071, 765), (5074, 750), (5077, 720), (5080, 750), (5083, 770), (5087, 755), (5090, 770), (5093, 765), (5096, 740), (5099, 760), (5102, 765), (5105, 760), (5109, 710), (5112, 745), (5115, 755), (5118, 760), (5121, 720), (5124, 720), (5127, 730), (5130, 730), (5134, 745), (5137, 740), (5140, 700), (5143, 720), (5146, 740), (5149, 730), (5152, 705), (5155, 730), (5159, 750), (5162, 720), (5165, 560), (5168, 580), (5171, 640), (5174, 760), (5177, 770), (5181, 720), (5184, 600), (5187, 720), (5190, 740), (5193, 690), (5196, 720), (5199, 760), (5203, 720), (5206, 680), (5209, 710), (5212, 760), (5215, 720), (5218, 760), (5221, 775), (5224, 720), (5228, 650), (5231, 720), (5234, 720), (5236, 750), (5239, 760), (5242, 770), (5245, 760), (5248, 720), (5251, 720), (5255, 760), (5258, 760), (5261, 700), (5264, 680), (5267, 610), (5270, 720), (5273, 735), (5277, 730), (5280, 755), (5283, 755), (5286, 720), (5289, 745), (5292, 750), (5295, 715), (5299, 720), (5302, 745), (5305, 755), (5308, 750), (5311, 740), (5314, 725), (5317, 720), (5320, 720), (5323, 700), (5328, 610), (5331, 720), (5334, 730), (5337, 680), (5340, 725), (5343, 730), (5346, 720), (5350, 730), (5353, 740), (5356, 735), (5359, 730), (5362, 720), (5365, 705), (5370, 645), (5374, 730), (5377, 720), (5380, 705), (5383, 710), (5386, 700), (5389, 690), (5392, 710), (5396, 645), (5399, 670), (5402, 710), (5405, 640), (5408, 680), (5411, 690), (5414, 710), (5417, 710), (5421, 680), (5424, 710), (5427, 710), (5430, 640), (5433, 680), (5436, 705), (5439, 710), (5442, 625), (5445, 690), (5449, 660), (5452, 680), (5455, 620), (5458, 685), (5461, 675), (5464, 680), (5468, 685), (5471, 680), (5474, 680), (5477, 635), (5480, 680), (5483, 680), (5486, 680), (5489, 680), (5493, 670), (5496, 635), (5500, 640)]

spectra = [
    [spec_z026_t003, spec_z026_t098, spec_z026_t39, spec_z026_t90],
    [spec_zm083_t003, spec_zm083_t098, spec_zm083_t39, spec_zm083_t90],
    [spec_zm23_t003, spec_zm23_t098, spec_zm23_t39, spec_zm23_t90],
]

fig, axes = plt.subplots(3, 4, figsize=(8, 4.5), dpi=300, sharex=True, sharey=True)
fig.subplots_adjust(left=0.0604, right=0.9592, bottom=0.1474, top=0.8504,
                    wspace=0.038, hspace=0.09)

for i, z in enumerate(metallicities):
    for j, t in enumerate(ages):
        ax = axes[i, j]
        data = spectra[i][j]
        lam = [p[0] for p in data]
        flux = [p[1] for p in data]
        ax.plot(lam, flux, color="C0", lw=1.5)
        ax.set_yticks([])
        if i == 0:
            ax.set_title(f"t={t}", fontsize=10, pad=13.5)
        if j == 0:
            ax.set_ylabel(f"z={z}", fontsize=10, labelpad=12)
        if i == 2:
            ax.set_xlabel(r"$\lambda$ [$\AA$]", fontsize=10)

axes[0, 0].set_xlim(4700, 5500)
axes[0, 0].set_xticks(xticks)
fig.suptitle(r"$S(\lambda;z,t)$ for different ages and metallicities", fontsize=12)
fig.savefig("out.png", dpi=300)
